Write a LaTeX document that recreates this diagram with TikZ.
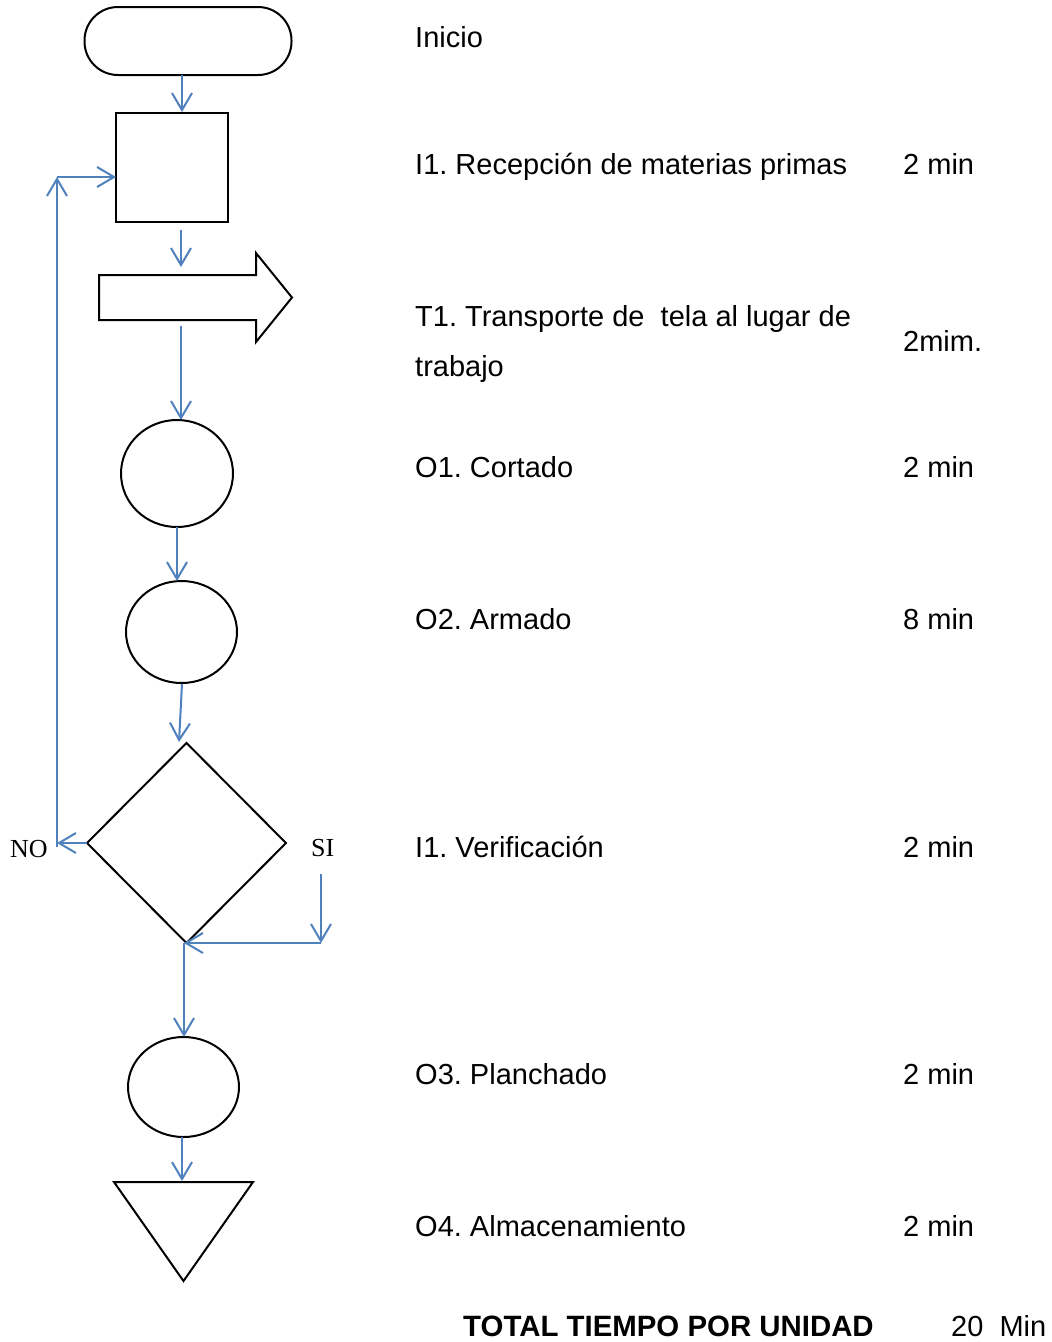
\documentclass[tikz,border=0pt]{standalone}
\usepackage{fontspec}
\setmainfont{Liberation Sans}
\newfontfamily\decisionfont{Liberation Serif}
\usetikzlibrary{arrows.meta,shapes.geometric,calc}
\definecolor{flowblue}{RGB}{79,129,189}
\frenchspacing

\begin{document}
\begin{tikzpicture}[x=1pt,y=-1pt,
  shapeline/.style={draw=black,line width=2pt,inner sep=0pt,outer sep=0pt},
  flow/.style={draw=flowblue,line width=2pt,-{Straight Barb[length=17pt,width=20pt]}},
  steptext/.style={anchor=base west,inner sep=0pt,font=\fontsize{29}{35}\selectfont},
  totaltext/.style={steptext,font=\fontsize{29.4}{35}\selectfont\bfseries},
  branchtext/.style={anchor=base west,inner sep=0pt,font=\decisionfont\fontsize{26}{30}\selectfont}]

% canvas
\fill[white] (0,0) rectangle (1052,1342);
\useasboundingbox (0,0) rectangle (1052,1342);

% ---- flowchart symbols ----
\node[shapeline,rectangle,rounded corners=33.5pt,minimum width=207pt,minimum height=68pt] (term) at (188,41) {};
\node[shapeline,rectangle,minimum width=112pt,minimum height=109pt] (recv) at (172,167.5) {};

% transport block arrow: body node plus outline drawn from its anchors
\node[inner sep=0pt,outer sep=0pt,minimum width=157pt,minimum height=45pt] (transp) at (177.5,297.5) {};
\draw[line width=2pt,line join=miter]
  (transp.north west) -- (transp.north east) -- ($(transp.north east)+(0,-22)$)
  -- ($(transp.east)+(36,0)$) -- ($(transp.south east)+(0,22)$)
  -- (transp.south east) -- (transp.south west) -- cycle;

\node[shapeline,ellipse,minimum width=112pt,minimum height=107pt] (op1) at (177,473.5) {};
\node[shapeline,ellipse,minimum width=111pt,minimum height=102pt] (op2) at (181.5,632) {};
\node[shapeline,diamond,minimum width=199pt,minimum height=200pt] (dec) at (186.5,843) {};
\node[shapeline,ellipse,minimum width=111pt,minimum height=100pt] (op3) at (183.5,1087) {};

% storage triangle: frame node plus outline
\node[inner sep=0pt,outer sep=0pt,minimum width=139pt,minimum height=99pt] (store) at (183.5,1231.5) {};
\draw[line width=2pt,line join=miter] (store.north west) -- (store.north east) -- (store.south) -- cycle;

% ---- connectors ----
\draw[flow] ($(term.south)+(-6,0)$) -- ($(recv.north)+(10,-1)$);
\draw[flow] ($(recv.south)+(9,8)$) -- ($(transp.north)+(3.5,-8)$);
\draw[flow] ($(transp.south)+(3.5,6)$) -- ($(op1.north)+(4,0)$);
\draw[flow] (op1.south) -- ($(op2.north)+(-4.5,0)$);
\draw[flow] ($(op2.south)+(0.5,1)$) -- ($(dec.north)+(-7.5,-1)$);

% NO branch back to reception
\coordinate (nocorner) at ($(dec.west)+(-30,0)$);
\coordinate (loopcorner) at ($(recv.west)+(-59,9.5)$);
\draw[flow] (dec.west) -- (nocorner);
\draw[flow] ($(nocorner)+(0,4)$) -- (loopcorner);
\draw[flow] (loopcorner) -- (loopcorner -| recv.west);

% SI branch onward
\coordinate (sistart) at (321,874);
\coordinate (decfoot) at ($(dec.south)+(-2.5,0)$);
\draw[flow] (sistart) -- (sistart |- decfoot);
\draw[flow] (sistart |- decfoot) -- (decfoot);
\draw[flow] (decfoot) -- (decfoot |- op3.north);
\draw[flow] ($(op3.south)+(-1.5,0)$) -- ($(store.north)+(-1.5,-1)$);

% branch labels
\node[branchtext] (nolabel) at (10,857) {NO};
\node[branchtext] (silabel) at (311,856) {SI};

% ---- step descriptions ----
\node[steptext] (t0) at (415,47) {Inicio};
\node[steptext] (t1) at (415,174) {I1. Recepción de materias primas};
\node[steptext] (t2a) at (415,326) {T1. Transporte de\ \ tela al lugar de};
\node[steptext] (t2b) at (415,376) {trabajo};
\node[steptext] (t3) at (415,477) {O1. Cortado};
\node[steptext] (t4) at (415,629) {O2. Armado};
\node[steptext] (t5) at (415,857) {I1. Verificación};
\node[steptext] (t6) at (415,1084) {O3. Planchado};
\node[steptext] (t7) at (415,1236) {O4. Almacenamiento};

% ---- times ----
\node[steptext] (m1) at (903,174) {2 min};
\node[steptext] (m2) at (903,351) {2mim.};
\node[steptext] (m3) at (903,477) {2 min};
\node[steptext] (m4) at (903,629) {8 min};
\node[steptext] (m5) at (903,857) {2 min};
\node[steptext] (m6) at (903,1084) {2 min};
\node[steptext] (m7) at (903,1236) {2 min};

% ---- total ----
\node[totaltext] (total) at (463,1336) {TOTAL TIEMPO POR UNIDAD};
\node[steptext] (totalval) at (951,1336) {20\ \ Min};
\end{tikzpicture}
\end{document}
